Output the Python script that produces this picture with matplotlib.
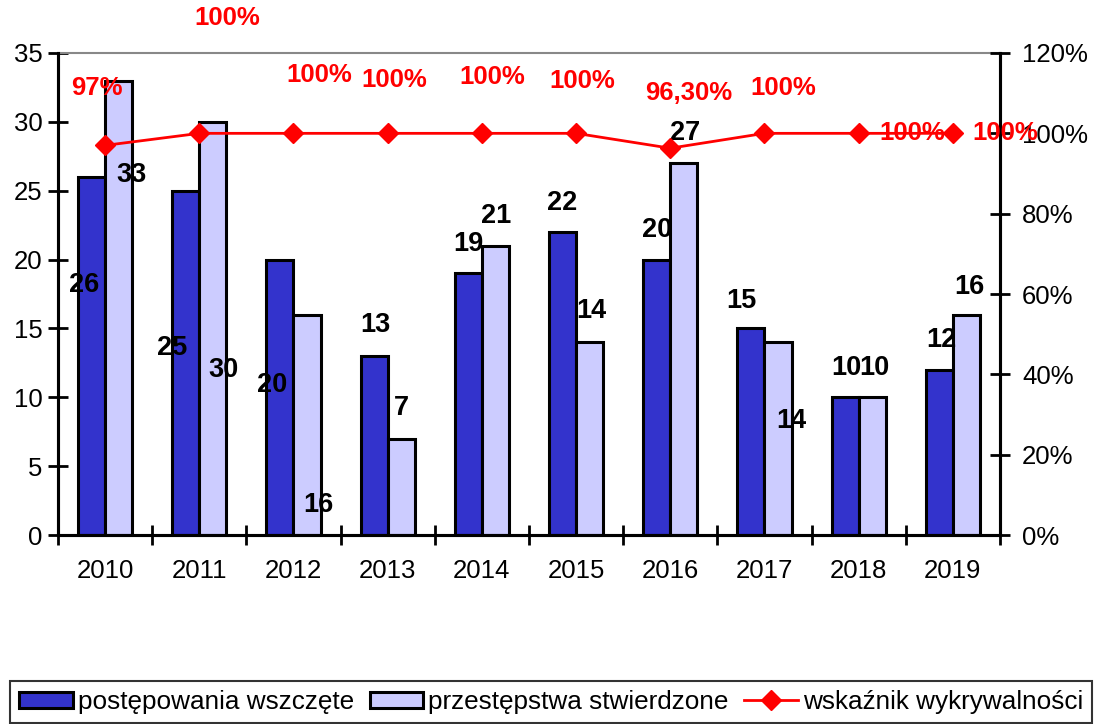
import numpy as np
import matplotlib
matplotlib.use('Agg')
import matplotlib.pyplot as plt
from matplotlib.ticker import FuncFormatter

plt.rcParams['font.family'] = ['Liberation Sans', 'DejaVu Sans']

years = ['2010', '2011', '2012', '2013', '2014', '2015', '2016', '2017', '2018', '2019']
wszczete = [26, 25, 20, 13, 19, 22, 20, 15, 10, 12]
stwierdzone = [33, 30, 16, 7, 21, 14, 27, 14, 10, 16]
wskaznik = [0.97, 1.0, 1.0, 1.0, 1.0, 1.0, 0.963, 1.0, 1.0, 1.0]
wskaznik_txt = ['97%', '100%', '100%', '100%', '100%', '100%', '96,30%', '100%', '100%', '100%']

# label placement (as in the original excel chart, labels got moved around)
lab1_dx = [-0.22, -0.29, -0.23, -0.135, -0.148, -0.15, -0.141, -0.25, -0.135, -0.126]
lab1_y = [18.15, 13.58, 10.89, 15.25, 21.13, 24.1, 22.15, 16.99, 12.13, 14.16]
lab2_dx = [0.276, 0.262, 0.26, 0.141, 0.15, 0.158, 0.156, 0.28, 0.162, 0.18]
lab2_y = [26.14, 11.98, 2.18, 9.22, 23.16, 16.26, 29.19, 8.28, 12.13, 18.0]
pct_dx = [-0.085, 0.294, 0.27, 0.066, 0.107, 0.063, 0.198, 0.196, 0.567, 0.553]
pct_y = [1.113, 1.287, 1.145, 1.133, 1.14, 1.13, 1.10, 1.113, 1.0, 1.0]

x = np.arange(len(years))
w = 0.287

fig = plt.figure(figsize=(10.96, 7.24), dpi=100)
ax = fig.add_axes([0.0529, 0.261, 0.8595, 0.6658])

b1 = ax.bar(x - w / 2, wszczete, w, color='#3333CC', edgecolor='black', linewidth=2.2,
            label='postępowania wszczęte', zorder=2)
b2 = ax.bar(x + w / 2, stwierdzone, w, color='#CCCCFF', edgecolor='black', linewidth=2.2,
            label='przestępstwa stwierdzone', zorder=2)

ax.set_xlim(-0.5, len(years) - 0.5)
ax.set_ylim(0, 35)
ax.set_yticks(range(0, 36, 5))
ax.set_xticks(np.arange(len(years) + 1) - 0.5)
ax.set_xticklabels([])
ax.set_xticks(x, minor=True)
ax.set_xticklabels(years, minor=True)
ax.tick_params(axis='x', which='minor', length=0, pad=17, labelsize=18.5)
ax.tick_params(axis='x', which='major', direction='inout', length=14, width=2)
ax.tick_params(axis='y', direction='inout', length=14, width=2, labelsize=18.5, pad=4)

for s in ['left', 'bottom', 'right']:
    ax.spines[s].set_linewidth(2.2)
ax.spines['top'].set_color('#888888')
ax.spines['top'].set_linewidth(1.5)

for i in range(len(years)):
    ax.text(x[i] + lab1_dx[i], lab1_y[i], str(wszczete[i]), ha='center', va='center',
            fontsize=19.5, fontweight='bold', color='black', zorder=5)
    ax.text(x[i] + lab2_dx[i], lab2_y[i], str(stwierdzone[i]), ha='center', va='center',
            fontsize=19.5, fontweight='bold', color='black', zorder=5)

ax2 = ax.twinx()
ax2.set_ylim(0, 1.2)
ax2.set_yticks(np.arange(0, 1.21, 0.2))
ax2.yaxis.set_major_formatter(FuncFormatter(lambda v, p: '%d%%' % round(v * 100)))
ax2.tick_params(axis='y', direction='inout', length=14, width=2, labelsize=18.5, pad=9)
for s in ['left', 'bottom', 'right']:
    ax2.spines[s].set_linewidth(2.2)
ax2.spines['top'].set_visible(False)

l1, = ax2.plot(x, wskaznik, color='#FF0000', linewidth=2, marker='D', markersize=10,
               label='wskaźnik wykrywalności', zorder=4, clip_on=False)

for i in range(len(years)):
    ax2.text(x[i] + pct_dx[i], pct_y[i], wskaznik_txt[i], ha='center', va='center',
             fontsize=18.5, fontweight='bold', color='#FF0000', clip_on=False, zorder=6)

leg = fig.legend(handles=[b1, b2, l1], loc='upper left', bbox_to_anchor=(0.009, 1 - 681 / 724),
                 ncol=3, fontsize=18.8, frameon=True, fancybox=False, edgecolor='black',
                 handlelength=2.05, handleheight=0.6, handletextpad=0.2, columnspacing=0.6,
                 borderpad=0.35, borderaxespad=0)
leg.get_frame().set_linewidth(1.5)

plt.savefig('out.png', dpi=100)
